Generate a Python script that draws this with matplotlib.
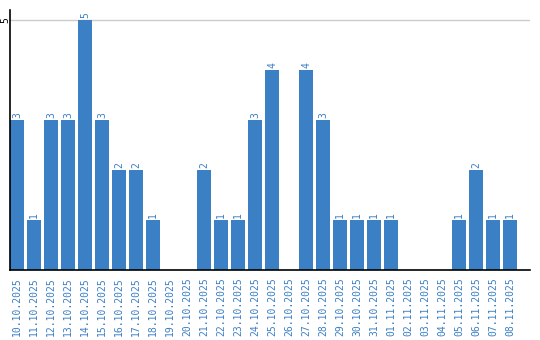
import matplotlib
matplotlib.use("Agg")
import matplotlib.pyplot as plt

dates = ["10.10.2025", "11.10.2025", "12.10.2025", "13.10.2025", "14.10.2025",
         "15.10.2025", "16.10.2025", "17.10.2025", "18.10.2025", "19.10.2025",
         "20.10.2025", "21.10.2025", "22.10.2025", "23.10.2025", "24.10.2025",
         "25.10.2025", "26.10.2025", "27.10.2025", "28.10.2025", "29.10.2025",
         "30.10.2025", "31.10.2025", "01.11.2025", "02.11.2025", "03.11.2025",
         "04.11.2025", "05.11.2025", "06.11.2025", "07.11.2025", "08.11.2025"]
counts = [3, 1, 3, 3, 5, 3, 2, 2, 1, 0,
          0, 2, 1, 1, 3, 4, 0, 4, 3, 1,
          1, 1, 1, 0, 0, 0, 1, 2, 1, 1]

blue = "#3b7fc4"
W, H = 540, 340
fig = plt.figure(figsize=(W / 100, H / 100), dpi=100)
ax = fig.add_axes([10 / W, 1 - 270 / H, 520 / W, 260 / H])

xs = list(range(len(dates)))
ax.bar(xs, counts, width=14 / 17, align="edge", color=blue, zorder=2)
for x, c in zip(xs, counts):
    if c > 0:
        ax.text(x + 7 / 17, c + 0.03, str(c), rotation=90, ha="center", va="bottom",
                color=blue, fontsize=7, family="DejaVu Sans Mono")

ax.set_xlim(0, 520 / 17)
ax.set_ylim(0, 5.2)
ax.set_yticks([5])
ax.set_yticklabels(["5"], rotation=90, va="center", fontsize=7, family="DejaVu Sans Mono")
ax.yaxis.grid(True, color="#cccccc", linewidth=1, zorder=0)
ax.set_xticks([x + 7 / 17 for x in xs])
ax.set_xticklabels(dates, rotation=90, color=blue, fontsize=7, family="DejaVu Sans Mono")
ax.tick_params(length=0, pad=5)
ax.tick_params(axis="y", pad=-0.5)
for s in ["top", "right"]:
    ax.spines[s].set_visible(False)
ax.spines["left"].set_linewidth(1.2)
ax.spines["bottom"].set_linewidth(1.2)

fig.savefig("out.png", dpi=100)
